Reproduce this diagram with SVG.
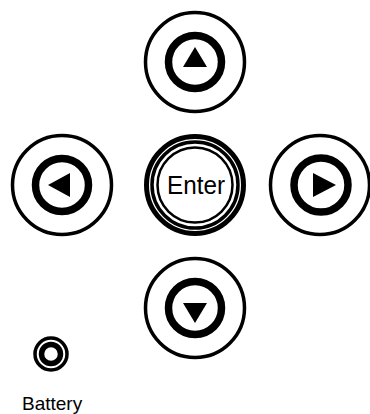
<svg xmlns="http://www.w3.org/2000/svg" width="370" height="414" viewBox="0 0 370 414">
<style>
.outer{fill:none;stroke:#000;stroke-width:3.5}
.inner{fill:none;stroke:#000;stroke-width:7.5}
.tri{fill:#000}
.lbl{font-family:"Liberation Sans",Arial,sans-serif;fill:#000}
</style>
<rect width="370" height="414" fill="#fff"/>
<g id="up">
<circle class="outer" cx="195" cy="62" r="49.5"/>
<circle class="inner" cx="195" cy="62" r="26.5"/>
<polygon class="tri" points="195,47 207,67 183,67"/>
</g>
<g id="enter">
<circle fill="none" stroke="#000" stroke-width="5" cx="195" cy="185" r="48.5"/>
<circle fill="none" stroke="#000" stroke-width="3.5" cx="195" cy="185" r="43"/>
<circle fill="none" stroke="#000" stroke-width="2.5" cx="195" cy="185" r="37.5"/>
<text class="lbl" x="196" y="194" font-size="25" text-anchor="middle" textLength="58" lengthAdjust="spacingAndGlyphs">Enter</text>
</g>
<g id="left">
<circle class="outer" cx="62" cy="185" r="49.5"/>
<circle class="inner" cx="62" cy="185" r="26.5"/>
<polygon class="tri" points="48,185 70,173 70,197"/>
</g>
<g id="right">
<circle class="outer" cx="320" cy="185" r="49.5"/>
<circle class="inner" cx="321" cy="185" r="27"/>
<polygon class="tri" points="336,185 313,173 313,197"/>
</g>
<g id="down">
<circle class="outer" cx="195" cy="308" r="49.5"/>
<circle class="inner" cx="195" cy="308" r="26.5"/>
<polygon class="tri" points="195,323 207,303 183,303"/>
</g>
<g id="battery">
<circle fill="none" stroke="#000" stroke-width="3.5" cx="51" cy="354" r="16"/>
<circle fill="none" stroke="#000" stroke-width="5.5" cx="51" cy="354" r="9.5"/>
<text class="lbl" x="22" y="410" font-size="19">Battery</text>
</g>
</svg>
